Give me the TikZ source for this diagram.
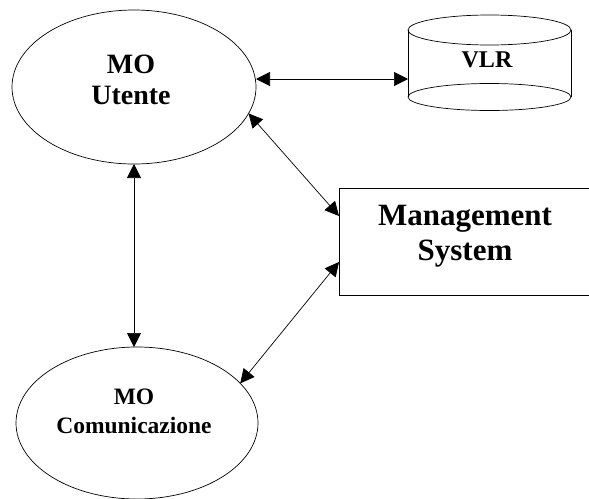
\documentclass[tikz,border=0pt]{standalone}
\usepackage{fontspec}
\setmainfont{Liberation Serif}
\usetikzlibrary{shapes.geometric,arrows.meta,calc}
\begin{document}
\begin{tikzpicture}[x=1pt,y=-1pt,
  every node/.style={inner sep=0pt,outer sep=0pt},
  oval/.style={draw,line width=0.7pt,ellipse},
  lbl/.style={font=\bfseries,align=center},
  arr/.style={line width=0.7pt,{Triangle[length=14pt,width=14pt]}-{Triangle[length=14pt,width=14pt]}}]
\clip (0,0) rectangle (589,498);
\useasboundingbox (0,0) rectangle (589,498);
% MO Utente
\node[oval,minimum width=244pt,minimum height=154pt] (utente) at (134,87) {};
\node[lbl,font=\bfseries\fontsize{28}{31}\selectfont] (utxt) at (131,80) {MO\\Utente};
% MO Comunicazione
\node[oval,minimum width=242pt,minimum height=152pt] (comun) at (137,423) {};
\node[lbl,font=\bfseries\fontsize{23.5}{29}\selectfont] (ctxt) at (134,411) {MO\\Comunicazione};
% VLR cylinder
\node[minimum width=163pt,minimum height=67pt] (vlr) at (489.5,63.5) {};
\draw[line width=0.7pt] (vlr.north west) -- (vlr.south west);
\draw[line width=0.7pt] (vlr.north east) -- (vlr.south east);
\draw[line width=0.7pt] (vlr.north) ellipse [x radius=81.5pt,y radius=15pt];
\draw[line width=0.7pt] (vlr.south) ellipse [x radius=81.5pt,y radius=13.5pt];
\node[lbl,font=\bfseries\fontsize{24}{26}\selectfont] (vtxt) at (487,60) {VLR};
% Management System
\node[draw,line width=0.7pt,minimum width=260pt,minimum height=107pt,anchor=north west] (ms) at (339,188) {};
\node[lbl,font=\bfseries\fontsize{31}{35}\selectfont] (mtxt) at (465,236) {Management\\System};
% connectors
\coordinate (lv) at (0,79);
\draw[arr] (utente.east |- lv) -- (vlr.west |- lv);
\draw[arr] (utente.south) -- (utente.south |- comun.north);
\draw[arr] (utente.-13) -- ($(ms.north west)+(0,28)$);
\draw[arr] ($(ms.north west)+(0,74)$) -- (comun.21);
\end{tikzpicture}
\end{document}
